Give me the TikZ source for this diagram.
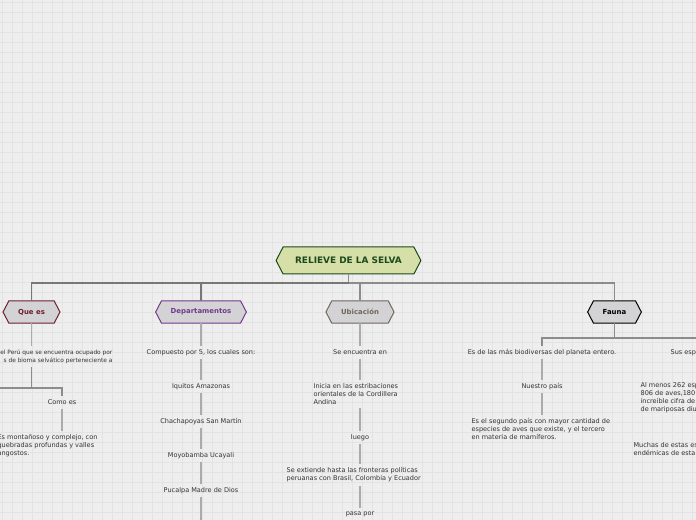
\documentclass[tikz,border=0pt]{standalone}
\usepackage{fontspec}
\setmainfont{DejaVu Sans}
\usepackage{xcolor}
\usetikzlibrary{shapes.symbols}

\definecolor{bggray}{HTML}{EEEEEE}
\definecolor{gridgray}{HTML}{E3E3E3}
\definecolor{boxgray}{HTML}{D3D3D5}
\definecolor{rootfill}{HTML}{D5DFA7}
\definecolor{rootgreen}{HTML}{1C4A1C}
\definecolor{quered}{HTML}{6E1F30}
\definecolor{deppurple}{HTML}{74398A}
\definecolor{ubicbrown}{HTML}{6F675C}
\definecolor{linegray}{HTML}{8C8C8C}
\definecolor{stemgray}{HTML}{ABABAB}
\definecolor{txtgray}{HTML}{333333}

\tikzset{
  topic/.style={signal, signal to=east and west, signal pointer angle=125,
    draw, line width=0.75pt, fill=boxgray, inner xsep=7pt, inner ysep=0pt,
    minimum height=16.5pt, outer sep=0pt,
    font=\fontsize{5.2}{6}\selectfont\bfseries},
  note/.style={font=\fontsize{4.9}{6}\selectfont, text=txtgray, inner sep=2.5pt},
  branch/.style={draw=linegray, line width=0.95pt},
  stem/.style={draw=stemgray, line width=0.85pt},
}

\begin{document}
\begin{tikzpicture}[x=0.75pt,y=0.75pt,yscale=-1,xscale=1]
\useasboundingbox (0,0) rectangle (696,520);

%Background and grid
\fill [bggray] (0,0) rectangle (696,520);
\foreach \gx in {2.5,12.5,...,692.5}
  \draw [gridgray, line width=0.5pt] (\gx,0) -- (\gx,520);
\foreach \gy in {2.5,12.5,...,512.5}
  \draw [gridgray, line width=0.5pt] (0,\gy) -- (696,\gy);

%Shape: Root
\node [topic, fill=rootfill, draw=rootgreen, text=rootgreen, minimum height=20.25pt,
  inner xsep=9pt, font=\fontsize{6.7}{7}\selectfont\bfseries] (root) at (348.5,260.5) {RELIEVE DE LA SELVA};

%Shape: Main topics
\node [topic, draw=quered, text=quered] (que) at (31.5,312) {Que es};
\node [topic, draw=deppurple, text=deppurple] (dep) at (201,312) {Departamentos};
\node [topic, draw=ubicbrown, text=ubicbrown] (ubic) at (360,312) {Ubicación};
\node [topic, draw=black, text=black] (fauna) at (614.5,312) {Fauna};

%Branch lines
\coordinate (bus) at (348.5,283);
\draw [branch] (root.south) -- (bus);
\draw [branch, linegray!85!black] (bus) -| (que.north);
\draw [branch, linegray!85!black] (bus) -| (dep.north);
\draw [branch] (bus) -| (ubic.north);
\draw [branch] (bus) -| (fauna.north);

% Text Node: Que es
\node [note, anchor=east, align=right, font=\fontsize{4.4}{6}\selectfont] (quetxt) at (116,356.5)
  {el Perú que se encuentra ocupado por\\s de bioma selvático perteneciente a};
\node [note] (como) at (62,402.5) {Como es};
\node [note, anchor=west, align=left] (montanoso) at (-6,446)
  {Es montañoso y complejo, con\\quebradas profundas y valles\\angostos.};
\coordinate (quebus) at (31.5,388);
\coordinate (queleft) at (0,388);
\draw [stem] (que.south) -- (que.south |- quetxt.north);
\draw [stem, linegray] (que.south |- quetxt.south) -- (quebus);
\draw [stem, linegray] (queleft) -- (quebus) -| (como.north);
\draw [stem] (como.south) -- (como.south |- montanoso.north);

% Text Node: Departamentos
\node [note] (dep1) at (201,352.5) {Compuesto por 5, los cuales son:};
\node [note] (dep2) at (201,386.5) {Iquitos Amazonas};
\node [note] (dep3) at (201,421.5) {Chachapoyas San Martín};
\node [note] (dep4) at (201,455.5) {Moyobamba Ucayali};
\node [note] (dep5) at (201,490.5) {Pucalpa Madre de Dios};
\coordinate (depend) at (201,520);
\draw [stem] (dep.south) -- (dep1);
\draw [stem] (dep1) -- (dep2);
\draw [stem] (dep2) -- (dep3);
\draw [stem] (dep3) -- (dep4);
\draw [stem] (dep4) -- (dep5);
\draw [stem] (dep5) -- (depend);

% Text Node: Ubicacion
\node [note] (ubic1) at (360,352.5) {Se encuentra en};
\node [note, anchor=west, align=left] (ubic2) at (310,394)
  {Inicia en las estribaciones\\orientales de la Cordillera\\Andina};
\node [note] (ubic3) at (360,437.5) {luego};
\node [note, anchor=west, align=left] (ubic4) at (283,475)
  {Se extiende hasta las fronteras políticas\\peruanas con Brasil, Colombia y Ecuador};
\node [note] (ubic5) at (360,514) {pasa por};
\draw [stem] (ubic.south) -- (ubic1);
\draw [stem] (ubic1) -- (ubic1 |- ubic2.north);
\draw [stem] (ubic3 |- ubic2.south) -- (ubic3);
\draw [stem] (ubic3) -- (ubic3 |- ubic4.north);
\draw [stem] (ubic5 |- ubic4.south) -- (ubic5);

% Text Node: Fauna
\node [note] (fauna1) at (542,352.5) {Es de las más biodiversas del planeta entero.};
\node [note] (fauna2) at (542,386.5) {Nuestro país};
\node [note, anchor=west, align=left] (fauna3) at (468,429)
  {Es el segundo país con mayor cantidad de\\especies de aves que existe, y el tercero\\en materia de mamíferos.};
\node [note, anchor=west] (fauna4) at (667,352.5) {Sus esp};
\node [note, anchor=west, align=left] (fauna5) at (637,398)
  {Al menos 262 esp\\806 de aves,180\\increíble cifra de\\de mariposas diu};
\node [note, anchor=west, align=left] (fauna6) at (630,449)
  {Muchas de estas es\\endémicas de esta};
\coordinate (faunabus) at (614.5,338);
\coordinate (faunaright) at (696,338);
\draw [stem, linegray] (fauna.south) -- (faunabus);
\draw [stem, linegray] (faunaright) -- (faunabus) -| (fauna1.north);
\draw [stem] (fauna1) -- (fauna2);
\draw [stem] (fauna2) -- (fauna2 |- fauna3.north);
\end{tikzpicture}
\end{document}
